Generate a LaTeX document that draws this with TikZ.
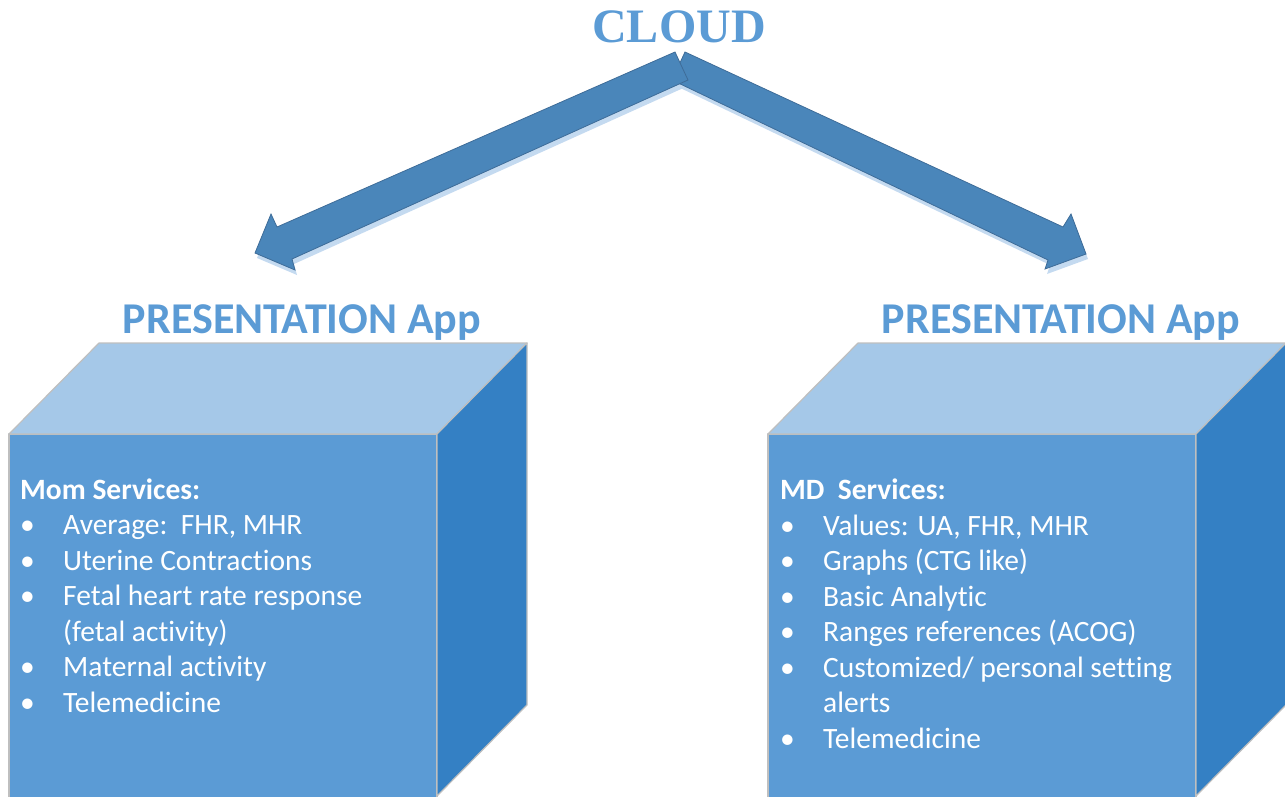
\documentclass[tikz,border=0pt]{standalone}
\usepackage{fontspec}
\setmainfont{Carlito}[Ligatures = CommonOff]
\newfontfamily\cloudfont{Liberation Serif}
\newcommand\listdot{\makebox[43pt][l]{\textbullet}}
\newcommand\listgap{\hspace*{43pt}}
\begin{document}
\begin{tikzpicture}[x = 1pt, y = -1pt,
  cubeedge/.style = {draw = edgegray, line width = 1.2pt, line join = round},
  blockarrow/.style = {fill = arrowblue, draw = arrowedge, line width = 0.8pt},
  arrowshadow/.style = {fill = shadowblue, draw = none},
  headline/.style = {text = titleblue, font = \fontsize{44}{50}\selectfont\bfseries, inner sep = 0, anchor = base},
  servicelist/.style = {text = white, font = \fontsize{29.5}{35.5}\selectfont, align = left, inner sep = 0, anchor = base west}]
\definecolor{frontblue}{RGB}{91,155,213}
\definecolor{topblue}{RGB}{165,200,232}
\definecolor{sideblue}{RGB}{52,128,196}
\definecolor{arrowblue}{RGB}{74,134,186}
\definecolor{arrowedge}{RGB}{62,108,152}
\definecolor{shadowblue}{RGB}{196,218,240}
\definecolor{edgegray}{RGB}{191,191,191}
\definecolor{titleblue}{RGB}{91,155,213}
\useasboundingbox (0,0) rectangle (1285,796);
\clip (0,0) rectangle (1285,796);
% the two boxes
\foreach \x in {9,768} {
  \draw [cubeedge, fill = frontblue] (\x,434) rectangle (\x+428,800);
  \draw [cubeedge, fill = topblue] (\x,434) -- ++(90,-91) -- ++(428,0) -- ++(-90,91) -- cycle;
  \draw [cubeedge, fill = sideblue] (\x+428,434) -- ++(90,-91) -- ++(0,362) -- ++(-90,91) -- cycle;
}
% block arrows from the cloud
\foreach \dx/\dy/\s in {2/5/arrowshadow, 0/0/blockarrow} {
  \begin{scope}[shift = {(\dx,\dy)}]
    \draw [\s] (685,52) -- (1063,227) -- (1071,214) -- (1086,254) -- (1045,269) -- (1048,260) -- (672,80) -- cycle;
    \draw [\s] (675,52) -- (277,227) -- (271,214) -- (255,253) -- (295,270) -- (292,259) -- (688,80) -- cycle;
  \end{scope}
}
\node [text = titleblue, font = \cloudfont\fontsize{48}{56}\selectfont\bfseries, inner sep = 0] (cloud) at (679,27) {CLOUD};
\node [headline] (momtitle) at (302,333) {PRESENTATION App};
\node [headline] (mdtitle) at (1061,333) {PRESENTATION App};
% base of the last line
\node [servicelist] (momlist) at (20,712) {\textbf{Mom Services:}\\
\listdot Average:\ \ FHR, MHR\\
\listdot Uterine Contractions\\
\listdot Fetal heart rate response\\
\listgap (fetal activity)\\
\listdot Maternal activity\\
\listdot Telemedicine};
\node [servicelist] (mdlist) at (780,748) {\textbf{MD\ \ Services:}\\
\listdot Values: UA, FHR, MHR\\
\listdot Graphs (CTG like)\\
\listdot Basic Analytic\\
\listdot Ranges references (ACOG)\\
\listdot Customized/ personal setting\\
\listgap alerts\\
\listdot Telemedicine};
\end{tikzpicture}
\end{document}
